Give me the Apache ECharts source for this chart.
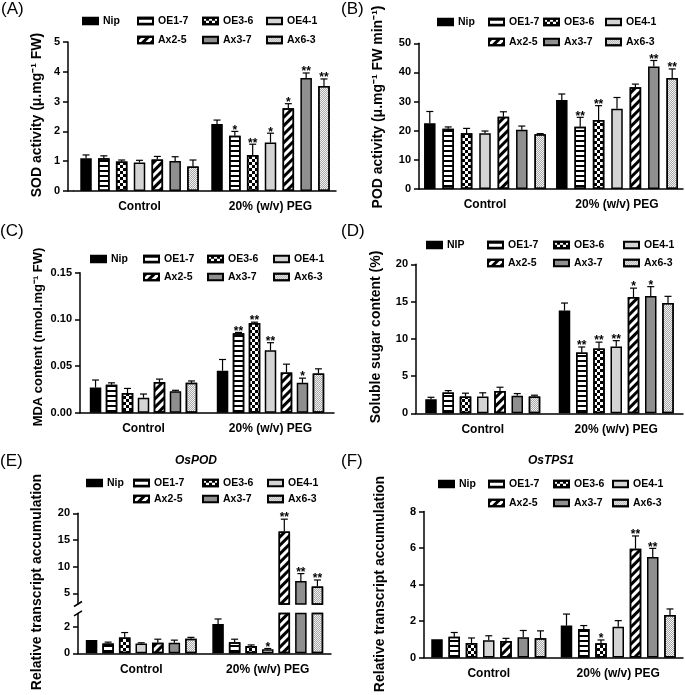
<!DOCTYPE html>
<html>
<head>
<meta charset="utf-8">
<script src="https://cdn.jsdelivr.net/npm/echarts@6/dist/echarts.min.js"></script>
<style>
  html, body { margin: 0; padding: 0; background: #fff; }
  #main { width: 685px; height: 695px; }
</style>
</head>
<body>
<div id="main"></div>
<script>
// categories
const groups = ['Control', '20% (w/v) PEG'];
const lines = ['Nip', 'OE1-7', 'OE3-6', 'OE4-1', 'Ax2-5', 'Ax3-7', 'Ax6-3'];
const linesD = ['NIP', 'OE1-7', 'OE3-6', 'OE4-1', 'Ax2-5', 'Ax3-7', 'Ax6-3'];

// (A) SOD activity
const sodCtrl = [1.10, 1.10, 0.99, 0.96, 1.06, 1.01, 0.82];
const sodCtrlErr = [0.11, 0.08, 0.05, 0.07, 0.10, 0.14, 0.22];
const sodPeg = [2.25, 1.85, 1.21, 1.63, 2.78, 3.79, 3.52];
const sodPegErr = [0.13, 0.15, 0.36, 0.31, 0.15, 0.17, 0.24];
const sodSig = [0, 1, 2, 1, 1, 2, 2];
const sodTicks = [0, 1, 2, 3, 4, 5];

// (B) POD activity
const podCtrl = [22.6, 20.7, 19.1, 19.1, 24.8, 20.3, 18.8];
const podCtrlErr = [4.0, 0.6, 1.7, 0.8, 1.7, 1.3, 0.2];
const podPeg = [30.5, 21.4, 23.7, 27.5, 34.9, 42.0, 38.1];
const podPegErr = [2.1, 3.2, 4.9, 3.9, 1.1, 2.1, 3.1];
const podSig = [0, 2, 2, 0, 0, 2, 2];
const podTicks = [0, 10, 20, 30, 40, 50];

// (C) MDA content
const mdaCtrl = [0.027, 0.030, 0.021, 0.016, 0.033, 0.023, 0.032];
const mdaCtrlErr = [0.008, 0.002, 0.005, 0.004, 0.003, 0.001, 0.002];
const mdaPeg = [0.045, 0.085, 0.096, 0.067, 0.043, 0.032, 0.042];
const mdaPegErr = [0.012, 0.001, 0.001, 0.008, 0.009, 0.005, 0.005];
const mdaSig = [0, 2, 2, 2, 0, 1, 0];
const mdaTicks = [0, 0.05, 0.10, 0.15];

// (D) soluble sugar
const sugarCtrl = [1.9, 2.8, 2.25, 2.25, 3.0, 2.35, 2.25];
const sugarCtrlErr = [0.25, 0.25, 0.45, 0.5, 0.5, 0.3, 0.18];
const sugarPeg = [13.8, 8.15, 8.7, 8.95, 15.6, 15.75, 14.8];
const sugarPegErr = [1.0, 0.75, 0.85, 0.8, 1.2, 1.25, 0.9];
const sugarSig = [0, 2, 2, 2, 1, 1, 0];
const sugarTicks = [0, 5, 10, 15, 20];

// (E) OsPOD
const posCtrl = [1.0, 0.74, 1.18, 0.74, 0.79, 0.79, 1.1];
const posCtrlErr = [0, 0.1, 0.38, 0.05, 0.27, 0.2, 0.1];
const posPeg = [2.2, 0.84, 0.55, 0.3, 16.6, 7.3, 6.3];
const posPegErr = [0.38, 0.22, 0.08, 0.06, 2.3, 1.4, 1.2];
const posSig = [0, 0, 0, 1, 2, 2, 2];
const posLowTicks = [0, 2];
const posHighTicks = [5, 10, 15, 20];

// (F) OsTPS1
const tpsCtrl = [1.0, 1.14, 0.8, 0.95, 0.91, 1.11, 1.06];
const tpsCtrlErr = [0, 0.23, 0.27, 0.24, 0.14, 0.37, 0.4];
const tpsPeg = [1.75, 1.56, 0.78, 1.69, 5.96, 5.51, 2.33];
const tpsPegErr = [0.63, 0.19, 0.18, 0.33, 0.7, 0.47, 0.33];
const tpsSig = [0, 0, 1, 0, 2, 2, 0];
const tpsTicks = [0, 2, 4, 6, 8];

const FONT = '"Liberation Sans", Arial, Helvetica, sans-serif';
const BLACK = '#000000';

function decal (o) {
  return Object.assign({ symbol: 'rect', symbolSize: 1, symbolKeepAspect: false, color: BLACK }, o);
}

// fill of each line, same order as lines
const fills = [
  { color: '#000000' },
  { color: '#ffffff', decal: decal({ dashArrayX: [1, 0], dashArrayY: [1.3, 3] }) },
  { color: '#ffffff', decal: decal({ dashArrayX: [[3, 3], [0, 3, 3, 0]], dashArrayY: [3, 0] }) },
  { color: '#d4d4d4' },
  { color: '#ffffff', decal: decal({ dashArrayX: [1, 0], dashArrayY: [2.5, 2.5], rotation: -Math.PI / 4 }) },
  { color: '#8f8f8f' },
  { color: '#f2f2f2', decal: decal({ color: '#a8a8a8', dashArrayX: [[1, 1], [0, 1, 1, 0]], dashArrayY: [1, 0] }) }
];

const panels = [
  {
    label: '(A)', lx: 1, ly: 1, names: lines,
    ctrl: sodCtrl, ctrlErr: sodCtrlErr, peg: sodPeg, pegErr: sodPegErr, sig: sodSig,
    axisX: 68, left: 74, right: 336, bw: 11.5, gap: 0.55,
    segs: [{ top: 42, bottom: 191, min: 0, max: 5, ticks: sodTicks }],
    yName: 'SOD activity (μ.mg⁻¹ FW)', nx: 37.5, ny: 115, ns: 14,
    legX: [82, 137, 202, 266], legY: [22, 41]
  },
  {
    label: '(B)', lx: 341, ly: 1, names: lines,
    ctrl: podCtrl, ctrlErr: podCtrlErr, peg: podPeg, pegErr: podPegErr, sig: podSig,
    axisX: 419, left: 419, right: 683, bw: 11.5, gap: 0.6,
    segs: [{ top: 43.3, bottom: 189, min: 0, max: 50, ticks: podTicks }],
    yName: 'POD activity (μ.mg⁻¹ FW min⁻¹)', nx: 378, ny: 107, ns: 14,
    legX: [437, 488, 543, 605], legY: [23, 43]
  },
  {
    label: '(C)', lx: 0, ly: 223, names: lines,
    ctrl: mdaCtrl, ctrlErr: mdaCtrlErr, peg: mdaPeg, pegErr: mdaPegErr, sig: mdaSig,
    axisX: 80, left: 80, right: 334, bw: 11.5, gap: 0.39,
    segs: [{ top: 272.7, bottom: 412.7, min: 0, max: 0.15, ticks: mdaTicks, digits: 2 }],
    yName: 'MDA content (nmol.mg⁻¹ FW)', nx: 38, ny: 337, ns: 13,
    legX: [90, 143, 207, 273], legY: [260, 278]
  },
  {
    label: '(D)', lx: 341, ly: 223, names: linesD,
    ctrl: sugarCtrl, ctrlErr: sugarCtrlErr, peg: sugarPeg, pegErr: sugarPegErr, sig: sugarSig,
    axisX: 416, left: 416, right: 683, bw: 11.5, gap: 0.5,
    segs: [{ top: 264.3, bottom: 413.3, min: 0, max: 20, ticks: sugarTicks }],
    yName: 'Soluble sugar content (%)', nx: 376, ny: 337, ns: 14,
    legX: [426, 487, 553, 623], legY: [246, 264]
  },
  {
    label: '(E)', lx: 0, ly: 453, names: lines, title: 'OsPOD', tx: 196, ty: 461,
    ctrl: posCtrl, ctrlErr: posCtrlErr, peg: posPeg, pegErr: posPegErr, sig: posSig,
    axisX: 78, left: 78, right: 331, bw: 11.5, gap: 0.44,
    segs: [
      { top: 613.4, bottom: 653.3, min: 0, max: 3, ticks: posLowTicks },
      { top: 513.3, bottom: 604, min: 3, max: 20, ticks: posHighTicks }
    ],
    yName: 'Relative transcript accumulation', nx: 37, ny: 582, ns: 14,
    legX: [86, 133, 202, 267], legY: [484, 500]
  },
  {
    label: '(F)', lx: 341, ly: 453, names: lines, title: 'OsTPS1', tx: 551, ty: 461,
    ctrl: tpsCtrl, ctrlErr: tpsCtrlErr, peg: tpsPeg, pegErr: tpsPegErr, sig: tpsSig,
    axisX: 424, left: 424, right: 683, bw: 11.5, gap: 0.5,
    segs: [{ top: 511.5, bottom: 657.5, min: 0, max: 8, ticks: tpsTicks }],
    yName: 'Relative transcript accumulation', nx: 380, ny: 584, ns: 14,
    legX: [438, 488, 553, 612], legY: [485, 504]
  }
];

const lineStyle = { color: BLACK, width: 1.5 };
const grid = [], xAxis = [], yAxis = [], series = [], legend = [], graphic = [];

// error bar + stars drawn above each bar
function errRender (k, bw, gap) {
  return function (params, api) {
    const cat = api.value(0), v = api.value(1), e = api.value(2), n = api.value(3);
    const p0 = api.coord([cat, v]);
    const x = p0[0] + (k - 3) * bw * (1 + gap);
    const y1 = api.coord([cat, v + e])[1];
    const kids = [];
    if (e > 0) {
      kids.push({ type: 'line', shape: { x1: x, y1: p0[1], x2: x, y2: y1 }, style: { stroke: BLACK, lineWidth: 1.2 } });
      kids.push({ type: 'line', shape: { x1: x - 3.5, y1: y1, x2: x + 3.5, y2: y1 }, style: { stroke: BLACK, lineWidth: 1.2 } });
    }
    if (n > 0) {
      kids.push({
        type: 'text', x: x, y: y1 - 1,
        style: { text: '*'.repeat(n), fill: BLACK, fontSize: 12, fontWeight: 'bold', fontFamily: FONT, align: 'center', verticalAlign: 'middle' }
      });
    }
    return { type: 'group', children: kids };
  };
}

panels.forEach(function (p) {
  p.segs.forEach(function (s, si) {
    const gi = grid.length;
    const base = si === 0;
    grid.push({ left: p.left, top: s.top, width: p.right - p.left, height: s.bottom - s.top });
    xAxis.push({
      gridIndex: gi, type: 'category', data: groups, show: base,
      axisLine: { lineStyle: lineStyle },
      axisTick: { alignWithLabel: true, length: 5, lineStyle: lineStyle },
      axisLabel: { fontSize: 12, fontWeight: 'bold', color: BLACK, fontFamily: FONT, margin: 10 }
    });
    yAxis.push({
      gridIndex: gi, type: 'value', min: s.min, max: s.max, offset: p.left - p.axisX,
      axisLine: { show: true, lineStyle: lineStyle },
      axisTick: { show: true, length: 5, customValues: s.ticks, lineStyle: lineStyle },
      axisLabel: {
        customValues: s.ticks, fontSize: 11, fontWeight: 'bold', color: BLACK, fontFamily: FONT, margin: 8,
        formatter: function (v) { return s.digits ? v.toFixed(s.digits) : String(v); }
      },
      splitLine: { show: false }
    });
    const upper = !base;
    for (let k = 0; k < 7; k++) {
      const vals = [p.ctrl[k], p.peg[k]];
      const errs = [p.ctrlErr[k], p.pegErr[k]];
      const sigs = [0, p.sig[k]];
      series.push({
        type: 'bar', name: p.names[k], xAxisIndex: gi, yAxisIndex: gi,
        barWidth: p.bw, barGap: (p.gap * 100) + '%', clip: true, silent: true,
        itemStyle: Object.assign({ borderColor: BLACK, borderWidth: 1.5 }, fills[k]),
        data: vals.map(function (v) { return upper && v <= s.min ? '-' : v; })
      });
      const eData = [];
      vals.forEach(function (v, c) {
        const inSeg = p.segs.length === 1 || (upper ? v > s.min : v <= s.max);
        if (inSeg) eData.push([c, v, errs[c], sigs[c]]);
      });
      series.push({
        type: 'custom', xAxisIndex: gi, yAxisIndex: gi, z: 3, silent: true,
        renderItem: errRender(k, p.bw, p.gap), encode: { x: 0, y: 1 }, data: eData
      });
    }
    // x axis line continues to the y axis when the grid is padded
    if (base && p.left > p.axisX) {
      graphic.push({ type: 'line', shape: { x1: p.axisX, y1: s.bottom, x2: p.left, y2: s.bottom }, style: { stroke: BLACK, lineWidth: 1.5 } });
    }
  });

  // broken axis marks
  if (p.segs.length > 1) {
    [p.segs[1].bottom, p.segs[0].top].forEach(function (y) {
      graphic.push({ type: 'line', shape: { x1: p.axisX - 4, y1: y + 2.5, x2: p.axisX + 4, y2: y - 2.5 }, style: { stroke: BLACK, lineWidth: 1.5 } });
    });
  }

  // legend: 4 columns, second row starts at column 2
  p.names.forEach(function (name, k) {
    const col = k < 4 ? k : k - 3;
    const row = k < 4 ? 0 : 1;
    legend.push({
      data: [name], left: p.legX[col], top: p.legY[row] - 6.5, padding: 0,
      itemWidth: 15, itemHeight: 6.5, itemGap: 0, icon: 'rect', selectedMode: false,
      textStyle: { fontSize: 10.5, fontWeight: 'bold', color: BLACK, fontFamily: FONT }
    });
  });

  graphic.push({
    type: 'text', x: p.lx, y: p.ly,
    style: { text: p.label, fill: BLACK, fontSize: 17, fontFamily: FONT, align: 'left', verticalAlign: 'top' }
  });
  graphic.push({
    type: 'text', x: p.nx, y: p.ny, rotation: Math.PI / 2,
    style: { text: p.yName, fill: BLACK, fontSize: p.ns, fontWeight: 'bold', fontFamily: FONT, align: 'center', verticalAlign: 'middle' }
  });
  if (p.title) {
    graphic.push({
      type: 'text', x: p.tx, y: p.ty,
      style: { text: p.title, fill: BLACK, fontSize: 12, fontWeight: 'bold', fontStyle: 'italic', fontFamily: FONT, align: 'center', verticalAlign: 'middle' }
    });
  }
});

const myChart = echarts.init(document.getElementById('main'));
myChart.setOption({
  animation: false,
  backgroundColor: '#ffffff',
  grid: grid,
  xAxis: xAxis,
  yAxis: yAxis,
  legend: legend,
  series: series,
  graphic: graphic
});
</script>
</body>
</html>
